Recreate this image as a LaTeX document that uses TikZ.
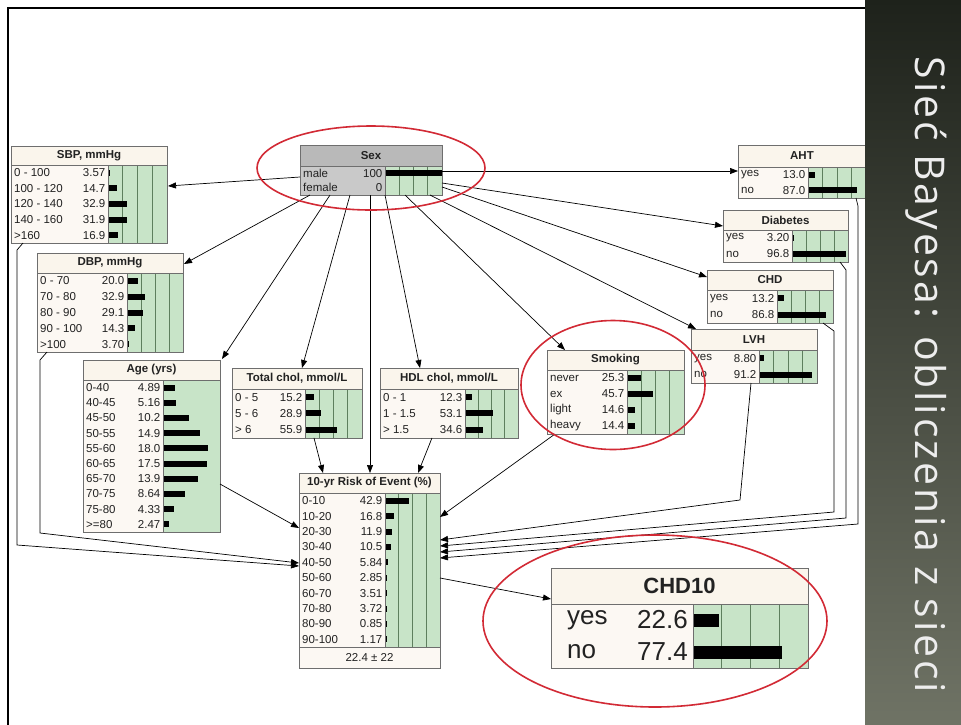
\documentclass[tikz,border=0pt]{standalone}
\usepackage{fontspec}
\usetikzlibrary{calc,arrows.meta,shapes.geometric}
\newfontfamily\nfont{Liberation Sans}
\newfontfamily\wfont{Liberation Sans}
\newfontfamily\tfont[LetterSpace=7]{Open Sans}
\definecolor{boxline}{HTML}{6E6E6E}
\definecolor{bodyfill}{HTML}{FCF8F3}
\definecolor{headfill}{HTML}{FAF5EC}
\definecolor{barfill}{HTML}{C8E4C8}
\definecolor{gridline}{HTML}{5E7F5E}
\definecolor{sexhead}{HTML}{B9B9B9}
\definecolor{sexbody}{HTML}{C9C9C9}
\definecolor{ringred}{HTML}{D22A35}
\definecolor{txt}{HTML}{222222}
\definecolor{panTop}{HTML}{1E221B}
\definecolor{panMid}{HTML}{3F4438}
\definecolor{panBot}{HTML}{6F7365}
\definecolor{paneltext}{HTML}{EDEDED}
\tikzset{
  conn/.style={draw=black,line width=0.7pt,-{Triangle[length=8pt,width=6pt]}},
  ring/.style={ellipse,draw=ringred,line width=1.6pt,inner sep=0}
}
\newcommand\nbgeom[8]{\def\nbX{#1}\def\nbY{#2}\def\nbW{#3}\def\nbHH{#4}\def\nbLW{#5}\def\nbRH{#6}\def\nbN{#7}\def\nbS{#8}}
\newcommand\nbdraw[3]{%
  \pgfmathsetmacro\nbH{\nbHH+\nbN*\nbRH}%
  \pgfmathsetmacro\nbT{\nbH+\nbFoot}%
  \fill[\nbBody] (\nbX,\nbY) rectangle ({\nbX+\nbW},{\nbY+\nbT});
  \fill[\nbHead] (\nbX,\nbY) rectangle ({\nbX+\nbW},{\nbY+\nbHH});
  \fill[barfill] ({\nbX+\nbLW},{\nbY+\nbHH}) rectangle ({\nbX+\nbW},{\nbY+\nbH});
  \ifnum\nbGrid=1
    \foreach \k in {1,2,3}{\draw[gridline,line width=0.6pt] ({\nbX+\nbLW+\k*(\nbW-\nbLW)/4},{\nbY+\nbHH}) -- ++(0,{\nbN*\nbRH});}
  \fi
  \foreach \lab/\val [count=\i] in {#3}{
    \pgfmathsetmacro\nbCY{\nbY+\nbHH+(\i-0.5)*\nbRH}
    \pgfmathsetmacro\nbBL{ifthenelse(\val>0,max(\val*\nbS,1.5),0)}
    \node[anchor=west,inner sep=0,text=txt,font=\nbFont] at ({\nbX+\nbLX},\nbCY) {\lab};
    \node[anchor=east,inner sep=0,text=txt,font=\nbFont] at ({\nbX+\nbLW-\nbVX},\nbCY) {\val};
    \fill[black] ({\nbX+\nbLW},{\nbCY-\nbBarH/2}) rectangle ++(\nbBL,\nbBarH);
  }
  \draw[boxline,line width=0.8pt] (\nbX,{\nbY+\nbHH}) -- ++(\nbW,0);
  \draw[boxline,line width=0.8pt] (\nbX,{\nbY+\nbH}) -- ++(\nbW,0);
  \draw[boxline,line width=0.8pt] ({\nbX+\nbLW},{\nbY+\nbHH}) -- ++(0,{\nbN*\nbRH});
  \node[draw=boxline,line width=0.8pt,inner sep=0,outer sep=0,anchor=north west,
        minimum width=\nbW pt,minimum height=\nbT pt] (#1) at (\nbX,\nbY) {};
  \node[font=\nbTFont,text=txt,inner sep=0] at ({\nbX+\nbW/2},{\nbY+\nbHH/2}) {#2};
}
\begin{document}
\begin{tikzpicture}[x=1pt,y=-1pt]
\fill[white] (0,0) rectangle (961,724);
\useasboundingbox (0,0) rectangle (961,724);
\draw[line width=2.5pt] (8,730) -- (8,8) -- (868,8);

\def\nbGrid{1}\def\nbBarH{6}\def\nbFoot{0}\def\nbLX{3}\def\nbVX{2.5}
\def\nbFont{\nfont\fontsize{11.5}{12}\selectfont}
\def\nbTFont{\nfont\bfseries\fontsize{11.5}{12}\selectfont}
\def\nbHead{headfill}\def\nbBody{bodyfill}

% boxes
\nbgeom{11}{146}{156}{19}{97}{15.6}{5}{0.59}
\nbdraw{sbp}{SBP, mmHg}{0 - 100/3.57, 100 - 120/14.7, 120 - 140/32.9, 140 - 160/31.9, >160/16.9}

\nbgeom{37}{253}{146}{20}{90}{15.8}{5}{0.56}
\nbdraw{dbp}{DBP, mmHg}{0 - 70/20.0, 70 - 80/32.9, 80 - 90/29.1, 90 - 100/14.3, >100/3.70}

\def\nbGrid{0}
\nbgeom{83}{360}{137}{20}{80}{15.2}{10}{2.5}
\nbdraw{age}{Age (yrs)}{0-40/4.89, 40-45/5.16, 45-50/10.2, 50-55/14.9, 55-60/18.0, 60-65/17.5, 65-70/13.9, 70-75/8.64, 75-80/4.33, >=80/2.47}
\def\nbGrid{1}

\nbgeom{232}{368}{130}{21}{73}{16.3}{3}{0.57}
\nbdraw{tchol}{Total chol, mmol/L}{0 - 5/15.2, 5 - 6/28.9, > 6/55.9}

\nbgeom{380}{368}{138}{21}{85}{16.3}{3}{0.53}
\nbdraw{hdl}{HDL chol, mmol/L}{0 - 1/12.3, 1 - 1.5/53.1, > 1.5/34.6}

\def\nbHead{sexhead}\def\nbBody{sexbody}
\nbgeom{300}{145}{142}{21}{85}{14.5}{2}{0.57}
\nbdraw{sex}{Sex}{male/100, female/0}
\def\nbHead{headfill}\def\nbBody{bodyfill}

\nbgeom{738}{145}{128}{22}{70}{15.5}{2}{0.56}
\nbdraw{aht}{AHT}{yes/13.0, no/87.0}

\nbgeom{723}{210}{125}{20}{69}{16}{2}{0.56}
\nbdraw{diabetes}{Diabetes}{yes/3.20, no/96.8}

\nbgeom{707}{270}{126}{20}{70}{16.5}{2}{0.56}
\nbdraw{chd}{CHD}{yes/13.2, no/86.8}

\nbgeom{691}{329}{126}{21}{68}{16.5}{2}{0.58}
\nbdraw{lvh}{LVH}{yes/8.80, no/91.2}

\nbgeom{547}{350}{137}{20}{80}{16}{4}{0.57}
\nbdraw{smoking}{Smoking}{never/25.3, ex/45.7, light/14.6, heavy/14.4}

\def\nbFoot{21}
\nbgeom{299}{473}{141}{20}{86}{15.4}{10}{0.55}
\nbdraw{risk}{10-yr Risk of Event (\%)}{0-10/42.9, 10-20/16.8, 20-30/11.9, 30-40/10.5, 40-50/5.84, 50-60/2.85, 60-70/3.51, 70-80/3.72, 80-90/0.85, 90-100/1.17}
\node[font=\nbFont,text=txt,inner sep=0] (riskfoot) at ($(risk.south)+(0,-10.5)$) {22.4 ± 22};
\def\nbFoot{0}

\def\nbBarH{13}\def\nbLX{16}\def\nbVX{5}
\def\nbFont{\wfont\fontsize{26}{28}\selectfont}
\def\nbTFont{\wfont\bfseries\fontsize{22}{24}\selectfont}
\nbgeom{551}{568}{257}{36}{142}{32}{2}{1.15}
\nbdraw{chdten}{CHD10}{yes/22.6, no/77.4}

% connectors from Sex
\draw[conn] ($(sex.north west)+(0,32)$) -- ($(sbp.north east)+(1,40)$);
\draw[conn] ($(sex.south west)+(10,0)$) -- ($(dbp.north east)+(1,11)$);
\draw[conn] ($(sex.south west)+(30,0)$) -- ($(age.north east)+(2,-1)$);
\draw[conn] ($(sex.south west)+(50,0)$) -- ($(tchol.north west)+(70,0)$);
\draw[conn] ($(sex.south west)+(70,0)$) -- ($(risk.north west)+(71,0)$);
\draw[conn] ($(sex.south west)+(85,0)$) -- ($(hdl.north west)+(40,0)$);
\draw[conn] ($(sex.south west)+(105,0)$) -- ($(smoking.north west)+(18,0)$);
\draw[conn] ($(sex.south east)+(-12,0)$) -- ($(lvh.north west)+(5,0)$);
\draw[conn] ($(sex.south east)+(0,-8)$) -- ($(chd.north west)+(0,7)$);
\draw[conn] ($(sex.north east)+(0,38)$) -- ($(diabetes.north west)+(0,16)$);
\draw[conn] ($(sex.north east)+(0,26)$) -- ($(aht.north west)+(0,26)$);

% connectors into Risk
\draw[conn] ($(age.north east)+(0,124)$) -- ($(risk.north west)+(0,55)$);
\draw[conn] ($(tchol.south west)+(82,0)$) -- ($(risk.north west)+(24,0)$);
\draw[conn] ($(hdl.south west)+(52,0)$) -- ($(risk.north west)+(119,0)$);
\draw[conn] ($(smoking.south west)+(8,0)$) -- ($(risk.north east)+(0,44)$);
\draw[conn] ($(lvh.south west)+(60,0)$) -- (740,500) -- ($(risk.north east)+(0,67)$);
\draw[conn] ($(chd.south east)+(-10,0)$) -- (834,331) -- (834,512) -- ($(risk.north east)+(0,73)$);
\draw[conn] ($(diabetes.south east)+(-8,0)$) -- (846,270) -- (846,518) -- ($(risk.north east)+(0,79)$);
\draw[conn] ($(aht.south east)+(-10,0)$) -- (858,206) -- (858,524) -- ($(risk.north east)+(0,85)$);
\draw[conn] ($(sbp.south west)+(12,0)$) -- (17,250) -- (17,545) -- ($(risk.north west)+(0,93)$);
\draw[conn] ($(dbp.south west)+(10,0)$) -- (40,360) -- (40,533) -- ($(risk.north west)+(0,90)$);
\draw[conn] ($(risk.north east)+(0,105)$) -- ($(chdten.north west)+(0,31)$);

% red rings
\node[ring,minimum width=228pt,minimum height=84pt] (ringsex) at (371,168) {};
\node[ring,minimum width=184pt,minimum height=129pt] (ringsmoke) at (613,385) {};
\node[ring,minimum width=344pt,minimum height=172pt] (ringchd) at (655,621) {};

% right panel
\shade[top color=panTop,middle color=panMid,bottom color=panBot] (865,0) rectangle (961,724);
\node[rotate=-90,anchor=base,inner sep=0,text=paneltext,font=\tfont\fontsize{41}{42}\selectfont] (paneltitle) at (915,375) {Sieć Bayesa: obliczenia z sieci};
\end{tikzpicture}
\end{document}
